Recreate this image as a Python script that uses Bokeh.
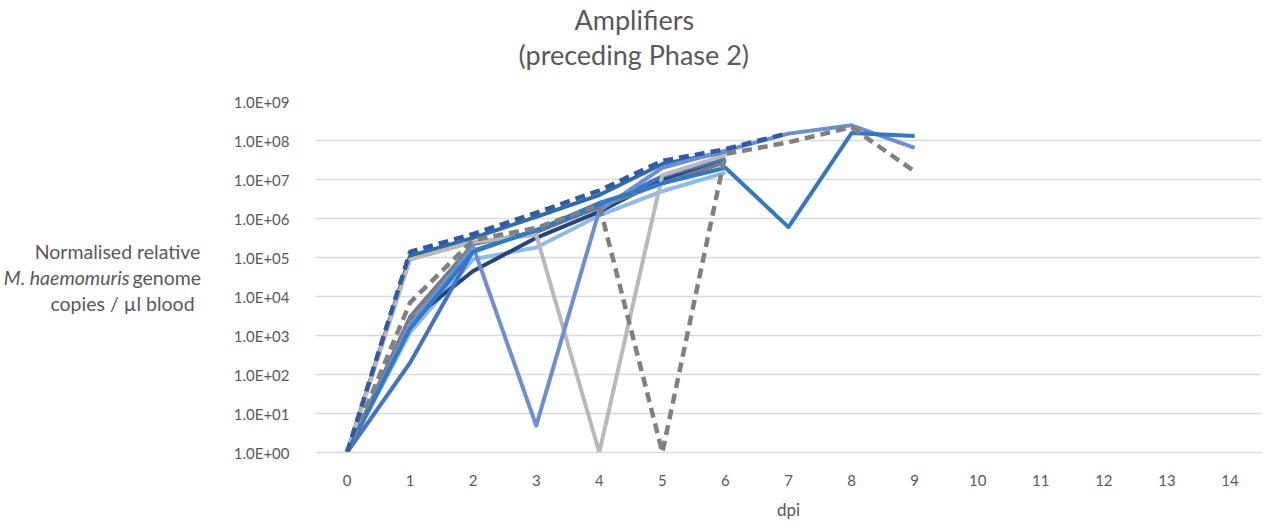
from bokeh.plotting import figure
from bokeh.layouts import row
from bokeh.models import FixedTicker, CustomJSTickFormatter, Title, Range1d
from bokeh.core.properties import value
from bokeh.embed import file_html
from bokeh.resources import INLINE

# x categories (days post infection)
dpi_ticks = list(range(15))
y_ticks = [10.0 ** k for k in range(10)]

# series values (genome copies / ul blood) by dpi starting at 0
light_blue = [1, 1.2e3, 9e4, 1.8e5, 1.2e6, 5e6, 1.5e7]
dark_navy = [1, 2.4e3, 4.5e4, 3.2e5, 1.5e6, 1.0e7, 3.2e7]
teal_blue = [1, 1.1e5, 3.2e5, 1.1e6, 4.0e6, 2.5e7, 5.0e7]
dark_gray = [1, 3e3, 2.2e5, 4.5e5, 2.0e6, 8e6, 2.8e7]
blue_low = [1, 2e2, 1.5e5, 5e5, 2.0e6, 1.2e7, 3.5e7]
light_gray = [1, 8.8e4, 2.5e5, 3.8e5, 1, 1.3e7, 4.2e7]
blue_dip = [1, 2e3, 1.9e5, 4.9, 1.6e6, 2.0e7, 5.5e7, 1.5e8, 2.45e8, 6.5e7]
mid_blue = [1, 1.5e3, 1.4e5, 5e5, 2.5e6, 8e6, 2.0e7, 6e5, 1.55e8, 1.3e8]
gray_dashed = [1, 7e3, 2.8e5, 5.7e5, 2.2e6, 1, 4.5e7, 9e7, 2.2e8, 1.6e7]
blue_dashed = [1, 1.4e5, 4.0e5, 1.4e6, 5.2e6, 3.0e7, 6.0e7, 1.55e8]

series = [
    (light_blue, "#8DBAE6", None),
    (dark_navy, "#264478", None),
    (teal_blue, "#2E6DA4", None),
    (dark_gray, "#7A7A7A", None),
    (blue_low, "#4472C4", None),
    (light_gray, "#B9B9B9", None),
    (blue_dip, "#6A8FD6", None),
    (mid_blue, "#2E7BC4", None),
    (gray_dashed, "#808080", "10 6"),
    (blue_dashed, "#2F5AA8", "10 6"),
]

# y-axis title lines
ylab_lines = ["Normalised relative", "M. haemomuris", "genome", "copies / µl blood"]

TXT = "#595959"
FONT = "Lato"
H = 522
LEFT_W = 230
TOP, BOTTOM = 100, 67

# ---- left panel holding the multi-style y-axis title ----
lf = figure(width=LEFT_W, height=H, x_range=Range1d(0, LEFT_W),
            y_range=Range1d(H - BOTTOM, TOP),
            output_backend="svg", toolbar_location=None,
            x_axis_location=None, y_axis_location=None,
            min_border_left=0, min_border_right=0,
            min_border_top=TOP, min_border_bottom=BOTTOM)
lf.outline_line_color = None
lf.xgrid.visible = False
lf.ygrid.visible = False
common = dict(text_color=TXT, text_font=value(FONT), text_font_size="19.5px",
              text_baseline="middle")
lf.text(x=[117], y=[252], text=[ylab_lines[0]], text_align="center", **common)
lf.text(x=[129], y=[278], text=[ylab_lines[1]], text_align="right",
        text_font_style="italic", **common)
lf.text(x=[132], y=[278], text=[ylab_lines[2]], text_align="left", **common)
lf.text(x=[122], y=[304], text=[ylab_lines[3]], text_align="center", **common)

# ---- main chart ----
p = figure(width=1269 - LEFT_W, height=H, y_axis_type="log",
           x_range=Range1d(-0.5, 14.5), y_range=Range1d(1, 1e9),
           output_backend="svg", toolbar_location=None,
           min_border_left=313 - LEFT_W, min_border_right=8,
           min_border_bottom=BOTTOM, min_border_top=TOP)
p.outline_line_color = None

for vals, color, dash in series:
    xs = dpi_ticks[:len(vals)]
    if dash:
        p.line(xs, vals, line_color=color, line_width=4.5, line_dash=dash)
    else:
        p.line(xs, vals, line_color=color, line_width=4, line_join="round")

p.yaxis.ticker = FixedTicker(ticks=y_ticks)
p.yaxis.formatter = CustomJSTickFormatter(code="""
const e = Math.round(Math.log10(tick));
const a = Math.abs(e);
return "1.0E" + (e < 0 ? "-" : "+") + (a < 10 ? "0" + a : "" + a);
""")
p.yaxis.axis_line_color = None
p.yaxis.major_tick_line_color = None
p.yaxis.minor_tick_line_color = None
p.yaxis.major_label_text_color = TXT
p.yaxis.major_label_text_font = FONT
p.yaxis.major_label_text_font_size = "15px"
p.yaxis.major_label_standoff = 20

p.xaxis.ticker = FixedTicker(ticks=dpi_ticks)
p.xaxis.axis_line_color = "#D9D9D9"
p.xaxis.axis_line_width = 1.5
p.xaxis.major_tick_line_color = None
p.xaxis.minor_tick_line_color = None
p.xaxis.major_label_text_color = TXT
p.xaxis.major_label_text_font = FONT
p.xaxis.major_label_text_font_size = "15px"
p.xaxis.major_label_standoff = 16
p.xaxis.axis_label = "dpi"
p.xaxis.axis_label_text_color = TXT
p.xaxis.axis_label_text_font = FONT
p.xaxis.axis_label_text_font_size = "17px"
p.xaxis.axis_label_text_font_style = "normal"
p.xaxis.axis_label_standoff = 10

p.ygrid.ticker = FixedTicker(ticks=y_ticks)
p.ygrid.grid_line_color = "#D9D9D9"
p.ygrid.grid_line_width = 1.5
p.xgrid.grid_line_color = None

# spacer between the titles and the plot frame
p.add_layout(Title(text=" ", text_font_size="1px", standoff=28), "above")
p.add_layout(Title(text="(preceding Phase 2)", text_font=FONT, text_font_size="27px",
                   text_color=TXT, text_font_style="normal", align="left",
                   offset=203, standoff=0), "above")
p.add_layout(Title(text="Amplifiers", text_font=FONT, text_font_size="27px",
                   text_color=TXT, text_font_style="normal", align="left",
                   offset=259, standoff=0), "above")

layout = row(lf, p, spacing=0)
open("out.html", "w").write(file_html(layout, INLINE))
